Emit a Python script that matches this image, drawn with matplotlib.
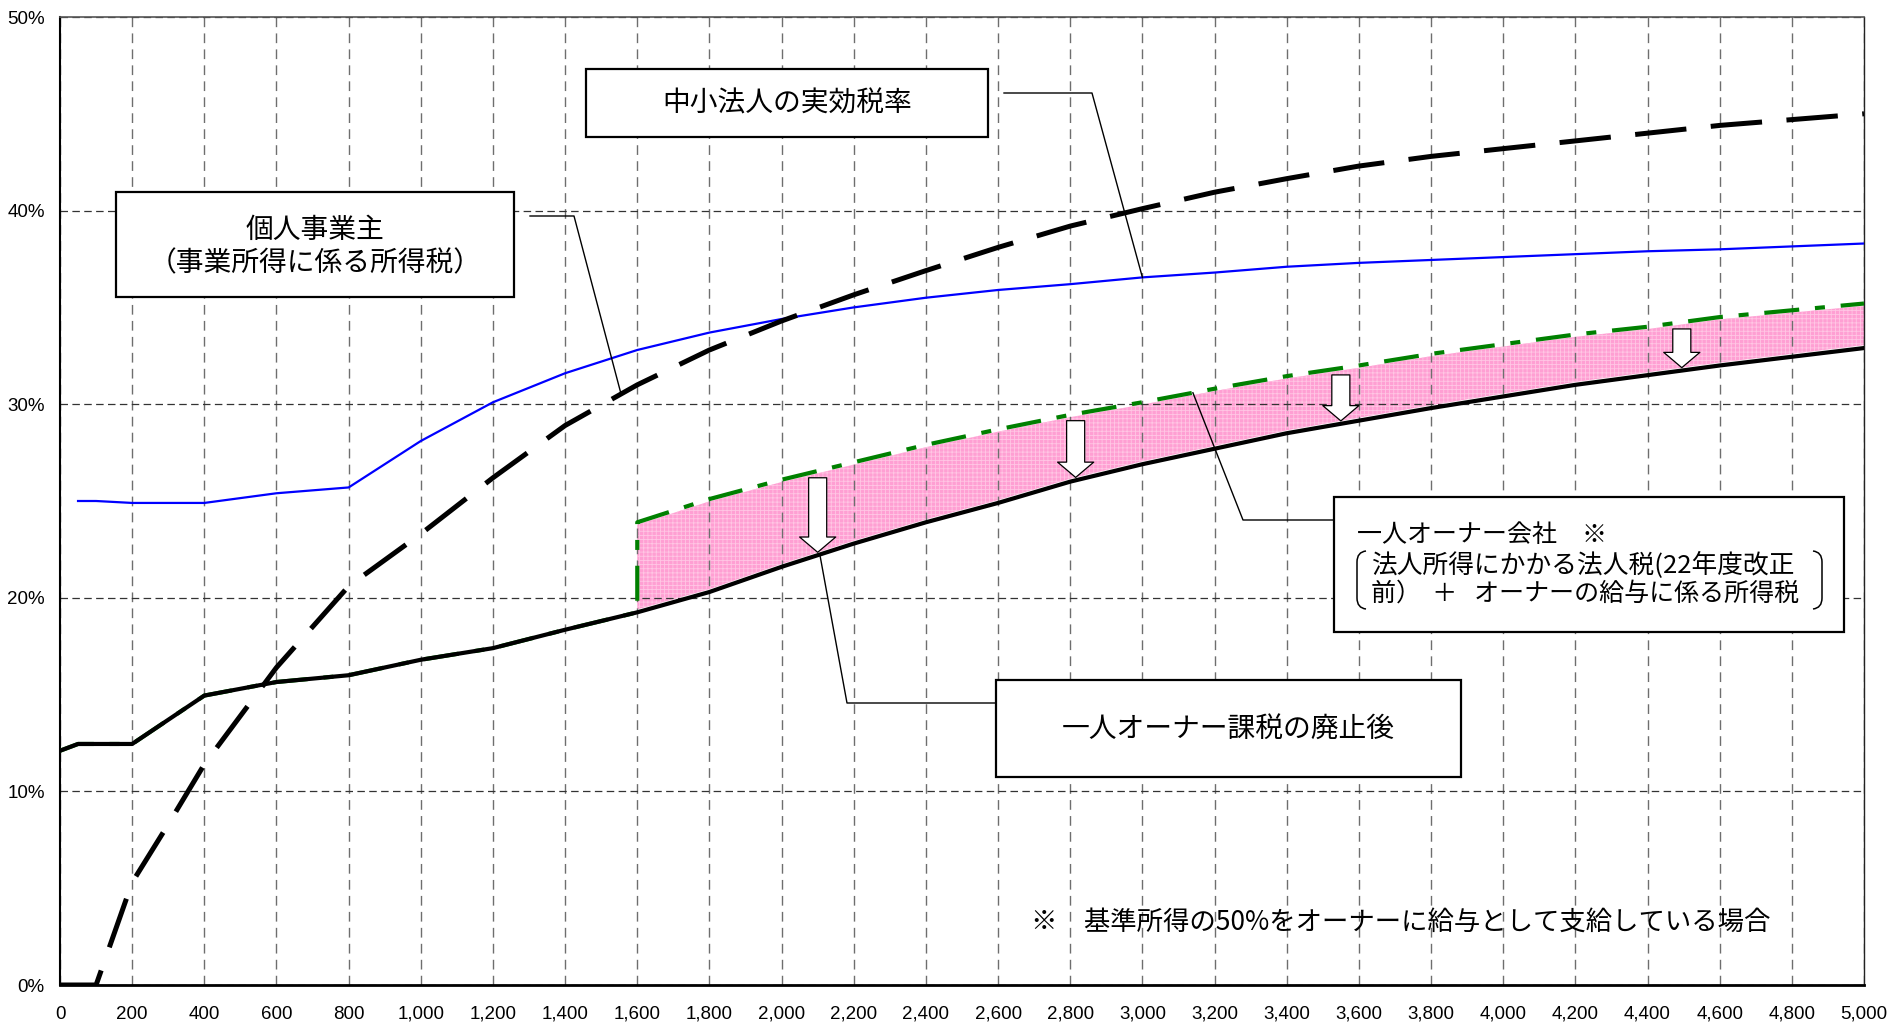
import numpy as np
import matplotlib
matplotlib.use("Agg")
import matplotlib.pyplot as plt
from matplotlib.patches import FancyArrowPatch, Rectangle, PathPatch, ArrowStyle
from matplotlib.path import Path
from matplotlib.ticker import FuncFormatter

JP = ['Noto Sans CJK JP', 'DejaVu Sans']
NUM = ['Liberation Sans', 'DejaVu Sans']
plt.rcParams['font.family'] = JP
plt.rcParams['hatch.linewidth'] = 0.6
plt.rcParams['hatch.color'] = '#ffc6e4'

# ---- data: income (万円) vs. effective tax rate (%) ----
# 中小法人の実効税率
corp_x = [50, 100, 200, 400, 600, 800, 1000, 1200, 1400, 1600, 1800, 2000, 2200, 2400,
          2600, 2800, 3000, 3200, 3400, 3600, 3800, 4000, 4200, 4400, 4600, 4800, 5000]
corp_rate = [25.0, 25.0, 24.9, 24.9, 25.4, 25.7, 28.1, 30.1, 31.6, 32.8, 33.7, 34.4, 35.0, 35.5,
             35.9, 36.2, 36.55, 36.8, 37.1, 37.3, 37.45, 37.6, 37.75, 37.9, 38.0, 38.15, 38.3]

# 個人事業主（事業所得に係る所得税）
sole_x = [0, 100, 200, 300, 400, 500, 600, 700, 800, 1000, 1200, 1400, 1600, 1800, 2000, 2200,
          2400, 2600, 2800, 3000, 3200, 3400, 3600, 3800, 4000, 4200, 4400, 4600, 4800, 5000]
sole_rate = [0.0, 0.0, 5.3, 8.3, 11.4, 13.9, 16.4, 18.5, 20.6, 23.3, 26.2, 28.9, 31.0, 32.8, 34.3, 35.65,
             36.9, 38.1, 39.2, 40.1, 40.95, 41.65, 42.3, 42.8, 43.2, 43.6, 44.0, 44.4, 44.7, 45.0]

# 一人オーナー課税の廃止後
after_x = [0, 50, 200, 400, 600, 800, 1000, 1200, 1400, 1600, 1800, 2000, 2200, 2400,
           2600, 2800, 3000, 3200, 3400, 3600, 3800, 4000, 4200, 4400, 4600, 4800, 5000]
after_rate = [12.1, 12.45, 12.45, 14.95, 15.65, 16.0, 16.8, 17.4, 18.35, 19.25, 20.3, 21.6, 22.8, 23.9,
              24.9, 26.0, 26.9, 27.7, 28.5, 29.15, 29.8, 30.4, 31.0, 31.5, 32.0, 32.45, 32.9]

# 一人オーナー会社（改正前）: identical below 1,600, owner taxation applies from 1,600
owner_x = [1600, 1800, 2000, 2200, 2400, 2600, 2800, 3000, 3200, 3400, 3600, 3800, 4000,
           4200, 4400, 4600, 4800, 5000]
owner_rate = [23.9, 25.1, 26.1, 27.0, 27.9, 28.7, 29.45, 30.1, 30.8, 31.45, 32.0, 32.6, 33.1,
              33.6, 34.0, 34.5, 34.85, 35.2]

arrow_x = [2100, 2815, 3550, 4495]

x_ticks = list(range(0, 5001, 200))
y_ticks = [0, 10, 20, 30, 40, 50]

# ---- figure ----
W, H = 1889, 1028
fig = plt.figure(figsize=(W / 100, H / 100), dpi=100)
L, R, T, B = 60, 1864, 17, 985
ax = fig.add_axes([L / W, 1 - B / H, (R - L) / W, (B - T) / H])
ax.set_xlim(0, 5000)
ax.set_ylim(0, 50)


def dx(px):
    return (px - L) / (R - L) * 5000


def dy(py):
    return (B - py) / (B - T) * 50


# grid
ax.set_xticks(x_ticks)
ax.set_yticks(y_ticks)
ax.set_axisbelow('line')
ax.xaxis.grid(True, color='#6e6e6e', lw=1.0, ls=(0, (7, 4.5)))
ax.yaxis.grid(True, color='#333333', lw=0.9, ls=(0, (6, 3.5)))
ax.tick_params(length=0)
ax.tick_params(axis='x', pad=15, labelsize=13.5)
ax.tick_params(axis='y', pad=11, labelsize=13.5)
ax.xaxis.set_major_formatter(FuncFormatter(lambda v, p: f"{int(v):,}"))
ax.yaxis.set_major_formatter(FuncFormatter(lambda v, p: f"{int(v)}%"))
for lab in ax.get_xticklabels() + ax.get_yticklabels():
    lab.set_family(NUM)

ax.spines['left'].set_linewidth(1.5)
ax.spines['bottom'].set_linewidth(2.0)
ax.spines['top'].set_color('#555555')
ax.spines['top'].set_linewidth(1.2)
ax.spines['right'].set_color('#222222')
ax.spines['right'].set_linewidth(1.0)

# pre-reform owner company curve (joins the post-reform curve below 1,600)
k = after_x.index(1600) + 1
pre_x = after_x[:k] + owner_x
pre_rate = after_rate[:k] + owner_rate

# shaded reduction band
ox = np.array(owner_x, dtype=float)
upper = np.array(owner_rate) - 0.12
lower = np.interp(ox, after_x, after_rate) + 0.15
ax.fill_between(ox, lower, upper, facecolor='#ff9fd3', edgecolor='none', hatch='++++', zorder=1)

ax.plot(corp_x, corp_rate, color='#0000ff', lw=1.6, zorder=3, solid_joinstyle='round')
ax.plot(pre_x, pre_rate, color='#008000', lw=3.0, ls=(0, (8.4, 3.8, 2.4, 3.8)), zorder=3)
ax.plot(after_x, after_rate, color='black', lw=3.0, zorder=4, solid_joinstyle='round')
ax.plot(sole_x, sole_rate, color='black', lw=3.6, ls=(0, (10.3, 4.9)), zorder=4,
        dash_capstyle='butt')

# downward arrows inside the band
tops = np.interp(arrow_x, owner_x, owner_rate) - 0.35
tips = np.interp(arrow_x, after_x, after_rate) + 0.15
style = ArrowStyle.Simple(head_length=11, head_width=26, tail_width=13)
for x0, y0, y1 in zip(arrow_x, tops, tips):
    ax.add_patch(FancyArrowPatch((x0, y0), (x0, y1), arrowstyle=style, mutation_scale=1,
                                 shrinkA=0, shrinkB=0, facecolor='white', edgecolor='black',
                                 lw=0.9, zorder=6))


# callout boxes
def box(x0, y0, x1, y1):
    ax.add_patch(Rectangle((dx(x0), dy(y1)), dx(x1) - dx(x0), dy(y0) - dy(y1),
                           facecolor='white', edgecolor='black', lw=1.6, zorder=7,
                           clip_on=False))


def leader(points):
    xs = [p[0] for p in points]
    ys = [p[1] for p in points]
    ax.plot(xs, ys, color='black', lw=1.0, zorder=5, clip_on=False)


box(586, 69, 988, 137)
ax.text(dx(787), dy(103), '中小法人の実効税率', fontsize=20, ha='center', va='center', zorder=8)
leader([(dx(1004), dy(93)), (dx(1092), dy(93)), (3000, np.interp(3000, corp_x, corp_rate))])

box(116, 192, 514, 297)
ax.text(dx(315), dy(230), '個人事業主', fontsize=20, ha='center', va='center', zorder=8)
ax.text(dx(315), dy(263), '（事業所得に係る所得税）', fontsize=20, ha='center', va='center', zorder=8)
leader([(dx(530), dy(216)), (dx(574), dy(216)), (1555, np.interp(1555, sole_x, sole_rate))])

box(1334, 497, 1844, 632)
ax.text(dx(1357), dy(535), '一人オーナー会社　※', fontsize=18, ha='left', va='center', zorder=8)
ax.text(dx(1371), dy(565), '法人所得にかかる法人税(22年度改正', fontsize=18.5, ha='left',
        va='center', zorder=8)
ax.text(dx(1371), dy(594), '前）  ＋   オーナーの給与に係る所得税', fontsize=18, ha='left',
        va='center', zorder=8)
for xa, xb in ((1366, 1357), (1813, 1822)):
    verts = [(xa, 551), (xb, 552), (xb, 562), (xb, 598), (xb, 608), (xa, 609)]
    codes = [Path.MOVETO, Path.CURVE3, Path.CURVE3, Path.LINETO, Path.CURVE3, Path.CURVE3]
    pth = Path([(dx(u), dy(v)) for u, v in verts], codes)
    ax.add_patch(PathPatch(pth, facecolor='none', edgecolor='black', lw=1.1, zorder=8,
                           clip_on=False))
leader([(3140, np.interp(3140, owner_x, owner_rate)), (dx(1243), dy(520)), (dx(1334), dy(520))])

box(996, 680, 1461, 777)
ax.text(dx(1228), dy(729), '一人オーナー課税の廃止後', fontsize=20, ha='center', va='center', zorder=8)
leader([(2106, np.interp(2106, after_x, after_rate)), (dx(847), dy(703)), (dx(996), dy(703))])

ax.text(dx(1031), dy(922), '※　基準所得の50%をオーナーに給与として支給している場合', fontsize=19,
        ha='left', va='center', zorder=8)

fig.savefig('out.png', dpi=100)
